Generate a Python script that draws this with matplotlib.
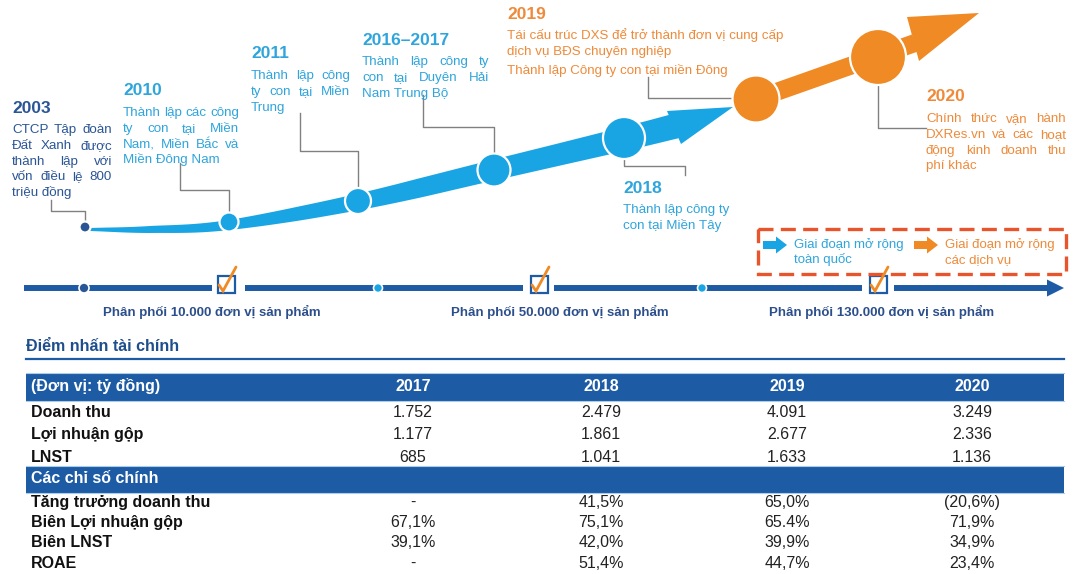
import numpy as np
import matplotlib
matplotlib.use('Agg')
import matplotlib.pyplot as plt
from matplotlib.patches import Polygon, Circle, Rectangle

plt.rcParams['font.family'] = ['Liberation Sans', 'DejaVu Sans']

# ---------------- data ----------------
milestone_years = ['2003', '2010', '2011', '2016–2017', '2018', '2019', '2020']
milestone_texts = [
    ['CTCP Tập đoàn', 'Đất Xanh được', 'thành lập với', 'vốn điều lệ 800', 'triệu đồng'],
    ['Thành lập các công', 'ty con tại Miền', 'Nam, Miền Bắc và', 'Miền Đông Nam'],
    ['Thành lập công', 'ty con tại Miền', 'Trung'],
    ['Thành lập công ty', 'con tại Duyên Hải', 'Nam Trung Bộ'],
    ['Thành lập công ty', 'con tại Miền Tây'],
    ['Tái cấu trúc DXS để trở thành đơn vị cung cấp', 'dịch vụ BĐS chuyên nghiệp',
     'Thành lập Công ty con tại miền Đông'],
    ['Chính thức vận hành', 'DXRes.vn và các hoạt', 'động kinh doanh thu', 'phí khác'],
]
distribution_labels = ['Phân phối 10.000 đơn vị sản phẩm',
                       'Phân phối 50.000 đơn vị sản phẩm',
                       'Phân phối 130.000 đơn vị sản phẩm']
legend_labels = [['Giai đoạn mở rộng', 'toàn quốc'], ['Giai đoạn mở rộng', 'các dịch vụ']]

table_title = 'Điểm nhấn tài chính'
table_unit = '(Đơn vị: tỷ đồng)'
table_years = ['2017', '2018', '2019', '2020']
fin_labels = ['Doanh thu', 'Lợi nhuận gộp', 'LNST']
revenue = ['1.752', '2.479', '4.091', '3.249']
gross_profit = ['1.177', '1.861', '2.677', '2.336']
net_profit = ['685', '1.041', '1.633', '1.136']
ratio_section = 'Các chỉ số chính'
ratio_labels = ['Tăng trưởng doanh thu', 'Biên Lợi nhuận gộp', 'Biên LNST', 'ROAE']
revenue_growth = ['-', '41,5%', '65,0%', '(20,6%)']
gross_margin = ['67,1%', '75,1%', '65.4%', '71,9%']
net_margin = ['39,1%', '42,0%', '39,9%', '34,9%']
roae = ['-', '51,4%', '44,7%', '23,4%']

# ---------------- style ----------------
C_DARK = '#2A5596'
C_BLUE = '#19A5E4'
C_BLUE_TXT = '#2FA5DC'
C_ORANGE = '#F08A24'
C_ORANGE_TXT = '#EE8A3A'
C_NAVY = '#1D5BA4'
C_LBL = '#2C4F8C'
C_GRAY = '#808080'

fig = plt.figure(figsize=(10.86, 5.74), dpi=100)
ax = fig.add_axes([0, 0, 1, 1])
ax.set_xlim(0, 1086)
ax.set_ylim(574, 0)
ax.axis('off')
renderer = fig.canvas.get_renderer()


def text_width(s, **kw):
    t = ax.text(0, 0, s, **kw)
    w = t.get_window_extent(renderer).width
    t.remove()
    return w


def paragraph(x, y0, dy, lines, width, color, size, justify=True):
    for i, line in enumerate(lines):
        y = y0 + i * dy
        words = line.split(' ')
        if justify and i < len(lines) - 1 and len(words) > 1:
            ws = [text_width(w, fontsize=size) for w in words]
            gap = (width - sum(ws)) / (len(words) - 1)
            cx = x
            for w, wd in zip(words, ws):
                ax.text(cx, y, w, fontsize=size, color=color, va='baseline', ha='left')
                cx += wd + gap
        else:
            ax.text(x, y, line, fontsize=size, color=color, va='baseline', ha='left')


def catmull(pts, n=40):
    pts = np.asarray(pts, float)
    P = np.vstack([2 * pts[0] - pts[1], pts, 2 * pts[-1] - pts[-2]])
    out = []
    for i in range(1, len(P) - 2):
        p0, p1, p2, p3 = P[i - 1], P[i], P[i + 1], P[i + 2]
        t = np.linspace(0, 1, n, endpoint=False)[:, None]
        out.append(0.5 * ((2 * p1) + (-p0 + p2) * t + (2 * p0 - 5 * p1 + 4 * p2 - p3) * t ** 2
                          + (-p0 + 3 * p1 - 3 * p2 + p3) * t ** 3))
    out.append(pts[-1:])
    return np.vstack(out)


def band(center, widths, color, z=2):
    c = np.asarray(center)
    d = np.gradient(c, axis=0)
    d /= np.linalg.norm(d, axis=1)[:, None]
    nrm = np.column_stack([-d[:, 1], d[:, 0]])
    top = c + nrm * widths[:, None] / 2
    bot = c - nrm * widths[:, None] / 2
    ax.add_patch(Polygon(np.vstack([top, bot[::-1]]), closed=True, fc=color, ec='none', zorder=z))


# ---------------- blue growth arrow ----------------
blue_pts = [(90, 229.5), (150, 229.5), (229, 225), (358, 202), (494, 170), (624, 139), (676, 126)]
bc = catmull(blue_pts)
bw = np.interp(bc[:, 0], [90, 150, 229, 300, 420, 560, 676], [3, 7, 10, 14, 19, 22, 25])
band(bc, bw, C_BLUE)
ax.add_patch(Polygon([(667, 111), (733, 107), (681, 144)], closed=True, fc=C_BLUE, ec='none', zorder=2))

# orange arrow
oc = np.column_stack([np.linspace(745, 915, 50), np.linspace(103, 43, 50)])
band(oc, np.full(50, 18.0), C_ORANGE)
ax.add_patch(Polygon([(907, 17), (979, 13), (919, 61)], closed=True, fc=C_ORANGE, ec='none', zorder=2))

# lead lines
leads = [
    [(51, 200), (51, 211), (85, 211), (85, 222)],
    [(180, 163), (180, 190), (229, 190), (229, 213)],
    [(300, 113), (300, 151), (358, 151), (358, 189)],
    [(423, 95), (423, 127), (494, 127), (494, 154)],
    [(624, 158), (624, 166), (685, 166), (685, 175)],
    [(648, 77), (648, 98), (733, 98)],
    [(878, 85), (878, 128), (926, 128)],
]
for p in leads:
    p = np.array(p)
    ax.plot(p[:, 0], p[:, 1], color=C_GRAY, lw=1.0, zorder=1.5)

# milestone circles
circles = [((85, 227), 5.5, C_DARK), ((229, 222), 9.5, C_BLUE), ((358, 201), 13, C_BLUE),
           ((494, 170), 16.5, C_BLUE), ((624, 138), 21, C_BLUE), ((756, 99), 23.5, C_ORANGE),
           ((878, 57), 28, C_ORANGE)]
for (cx, cy), r, col in circles:
    ax.add_patch(Circle((cx, cy), r, fc=col, ec='white', lw=1.6, zorder=3))

# milestone texts: (x, year baseline, first line baseline, width, color year, color text, justify)
mlay = [
    (12, 113, 133, 100, C_DARK, C_DARK, True),
    (123, 95, 116, 116, C_BLUE_TXT, C_BLUE_TXT, True),
    (251, 58, 79, 99, C_BLUE_TXT, C_BLUE_TXT, True),
    (362, 45, 65, 127, C_BLUE_TXT, C_BLUE_TXT, True),
    (623, 193, 213, 100, C_BLUE_TXT, C_BLUE_TXT, False),
    (507, 19, 39, 270, C_ORANGE_TXT, C_ORANGE_TXT, False),
    (926, 101, 122, 140, C_ORANGE_TXT, C_ORANGE_TXT, True),
]
for yr, lines, (x, yb, lb, w, cy_, ct, just) in zip(milestone_years, milestone_texts, mlay):
    ax.text(x, yb, yr, fontsize=12.5, fontweight='bold', color=cy_, va='baseline', ha='left')
    if yr == '2019':
        ax.text(x, lb, lines[0], fontsize=9.6, color=ct, va='baseline')
        ax.text(x, lb + 15.5, lines[1], fontsize=9.6, color=ct, va='baseline')
        ax.text(x, lb + 35, lines[2], fontsize=9.6, color=ct, va='baseline')
    else:
        paragraph(x, lb, 15.8, lines, w, ct, 9.6, justify=just)

# ---------------- bottom timeline ----------------
LY = 288
for x0, x1 in [(24, 212), (245, 523), (554, 862), (894, 1050)]:
    ax.plot([x0, x1], [LY, LY], color=C_NAVY, lw=4.3, solid_capstyle='butt', zorder=2)
ax.add_patch(Polygon([(1047, 279.5), (1064, 288), (1047, 296.5)], closed=True, fc=C_NAVY, ec='none', zorder=2))
for (dx, col, r) in [(84, C_DARK, 5), (378, C_BLUE, 4.5), (702, C_BLUE, 4.5)]:
    ax.add_patch(Circle((dx, LY), r, fc=col, ec='white', lw=1.2, zorder=3))
for bx in [226, 539, 878]:
    ax.add_patch(Rectangle((bx - 8.5, 276), 17, 17, fc='white', ec=C_NAVY, lw=1.6, zorder=3))
    ax.plot([bx - 7, bx - 3, bx + 10], [285, 291, 267], color=C_ORANGE, lw=2.0,
            solid_capstyle='round', solid_joinstyle='miter', zorder=4)
for lbl, cx in zip(distribution_labels, [212, 560, 882]):
    ax.text(cx, 316, lbl, fontsize=9.5, fontweight='bold', color=C_LBL, ha='center', va='baseline')

# legend box
ax.add_patch(Rectangle((758, 229), 308, 45, fill=False, ec='#E8542C', lw=2.4,
                       linestyle=(0, (4.5, 2.2)), zorder=3))
for ax0, col, tcol, lbls in [(763, C_BLUE, C_BLUE_TXT, legend_labels[0]),
                             (914, C_ORANGE, C_ORANGE_TXT, legend_labels[1])]:
    cy = 245
    ax.add_patch(Polygon([(ax0, cy - 4), (ax0 + 13, cy - 4), (ax0 + 13, cy - 8.5), (ax0 + 24, cy),
                          (ax0 + 13, cy + 8.5), (ax0 + 13, cy + 4), (ax0, cy + 4)],
                         closed=True, fc=col, ec='none', zorder=3))
    ax.text(ax0 + 31, 248, lbls[0], fontsize=9.5, color=tcol, va='baseline')
    ax.text(ax0 + 31, 263.5, lbls[1], fontsize=9.5, color=tcol, va='baseline')

# ---------------- table ----------------
TL, TR = 26, 1064
cols = [413, 601, 787, 972]
FS = 11.5
ax.text(TL, 351, table_title, fontsize=11.5, fontweight='bold', color='#1F4E8C', va='baseline')
ax.plot([TL, TR], [359, 359], color=C_NAVY, lw=1.6, zorder=2)

ax.add_patch(Rectangle((TL, 373), TR - TL, 28, fc=C_NAVY, ec='none', zorder=1))
ax.add_patch(Rectangle((TL, 466), TR - TL, 27, fc=C_NAVY, ec='none', zorder=1))
for yy in [373, 401, 466, 493]:
    ax.plot([TL, TR], [yy, yy], color='#A9CDEB', lw=0.8, zorder=1.2)

ax.text(31, 391, table_unit, fontsize=FS, fontweight='bold', color='white', va='baseline')
for yr, cx in zip(table_years, cols):
    ax.text(cx, 391, yr, fontsize=FS, fontweight='bold', color='white', ha='center', va='baseline')

for lbl, vals, yb in zip(fin_labels, [revenue, gross_profit, net_profit], [417, 439, 462]):
    ax.text(31, yb, lbl, fontsize=FS, fontweight='bold', color='#111111', va='baseline')
    for v, cx in zip(vals, cols):
        ax.text(cx, yb, v, fontsize=FS, color='#222222', ha='center', va='baseline')

ax.text(31, 483, ratio_section, fontsize=FS, fontweight='bold', color='white', va='baseline')
for lbl, vals, yb in zip(ratio_labels, [revenue_growth, gross_margin, net_margin, roae],
                         [507, 527, 547, 568]):
    ax.text(31, yb, lbl, fontsize=FS, fontweight='bold', color='#111111', va='baseline')
    for v, cx in zip(vals, cols):
        ax.text(cx, yb, v, fontsize=FS, color='#222222', ha='center', va='baseline')

fig.savefig('out.png', dpi=100)
